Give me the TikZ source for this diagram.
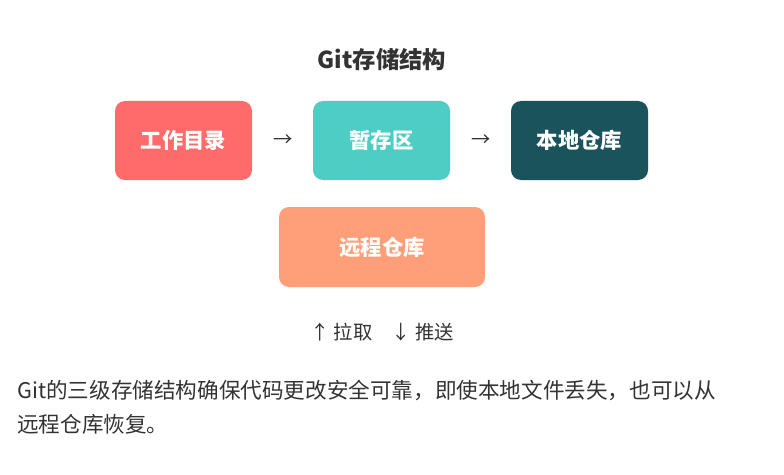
\documentclass[tikz,border=0pt]{standalone}
\usepackage{fontspec}
\setmainfont{Noto Sans CJK SC}
\definecolor{ink}{HTML}{333333}
\definecolor{cA}{HTML}{FF6B6B}
\definecolor{cB}{HTML}{4ECDC4}
\definecolor{cC}{HTML}{1A535C}
\definecolor{cD}{HTML}{FF9F7A}
\begin{document}
\begin{tikzpicture}[x=0.75pt,y=-0.75pt,
  box/.style={rounded corners=7.5pt,text=white,font=\fontsize{16}{19}\selectfont\bfseries,inner sep=0pt},
  txt/.style={text=ink,inner sep=0pt}]
\useasboundingbox[fill=white] (0,0) rectangle (784,474);
\node[txt,font=\fontsize{17.5}{21}\selectfont\bfseries] (t) at (382,60) {Git存储结构};
\node[box,fill=cA,minimum width=102.75pt,minimum height=59.25pt] (a) at (183.5,140.5) {工作目录};
\node[box,fill=cB,minimum width=102.75pt,minimum height=59.25pt] (b) at (381.5,140.5) {暂存区};
\node[box,fill=cC,minimum width=102.75pt,minimum height=59.25pt] (c) at (579.5,140.5) {本地仓库};
\node[box,fill=cD,minimum width=154.5pt,minimum height=60pt] (d) at (382,247) {远程仓库};
\node[txt,font=\fontsize{14.5}{17}\selectfont] (ab) at (283,141) {→};
\node[txt,font=\fontsize{14.5}{17}\selectfont] (bc) at (481,141) {→};
\node[txt,font=\fontsize{14.5}{17}\selectfont] (leg) at (382,332) {↑ 拉取\quad ↓ 推送};
\node[txt,anchor=west,font=\fontsize{16.2}{19}\selectfont] (p1) at (17,390) {Git的三级存储结构确保代码更改安全可靠，即使本地文件丢失，也可以从};
\node[txt,anchor=west,font=\fontsize{16.2}{19}\selectfont] (p2) at (17,424) {远程仓库恢复。};
\end{tikzpicture}
\end{document}
